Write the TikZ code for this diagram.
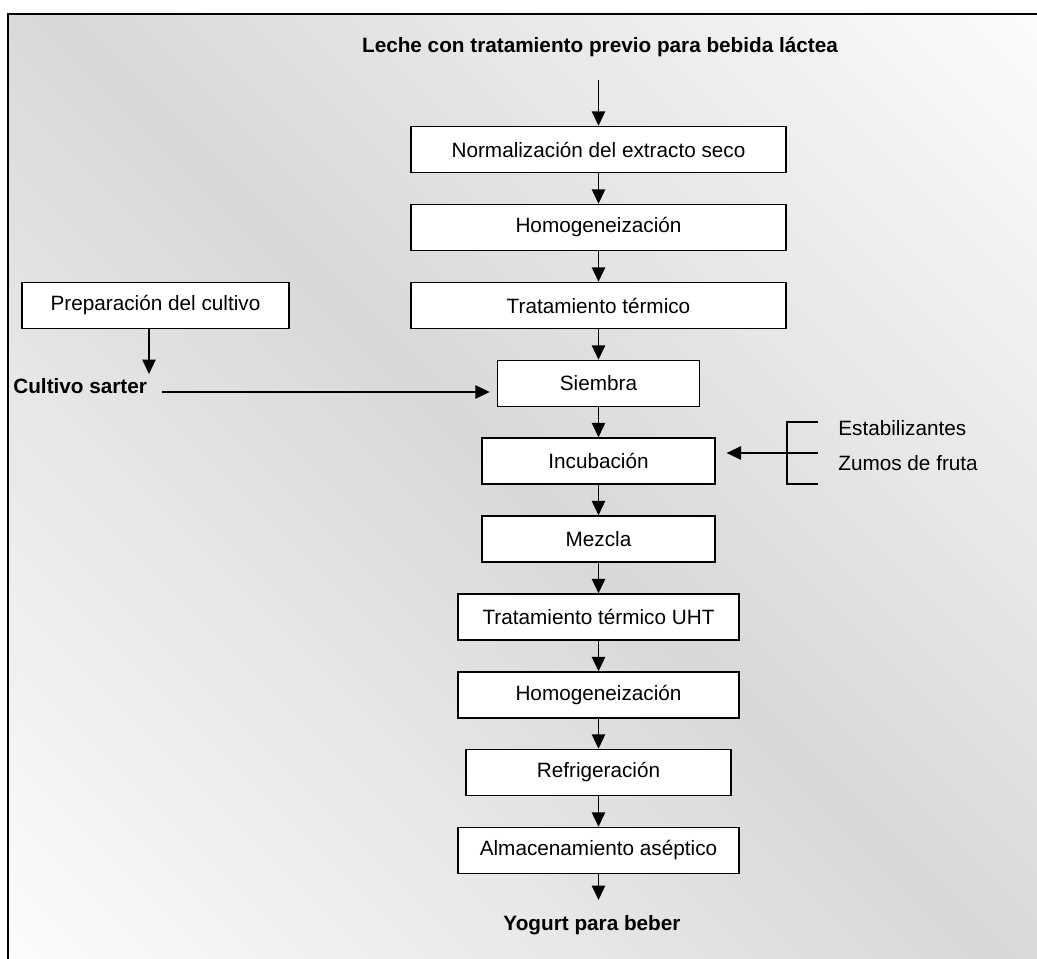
\documentclass[tikz,border=0pt]{standalone}
\usepackage{fontspec}
\setmainfont{Liberation Sans}
\usetikzlibrary{arrows.meta,calc}
\definecolor{bgmid}{RGB}{216,216,216}
\definecolor{bgend}{RGB}{252,252,252}
\begin{document}
\begin{tikzpicture}[x=0.02cm,y=-0.02cm,
  every node/.style={font=\fontsize{11.8}{14}\selectfont},
  stage/.style={draw=black, line width=0.85pt, fill=white, minimum height=0.92cm,
    inner sep=0pt, align=center},
  title/.style={font=\fontsize{11.8}{14}\selectfont\bfseries, inner sep=0pt},
  plain/.style={inner sep=0pt, anchor=west},
  flow/.style={line width=0.85pt, -{Triangle[length=8.2pt,width=7.6pt]}},
  bracket/.style={line width=0.85pt}
]
% page and framed panel with a diagonal grey gradient (built from thin bands)
\clip (0,0) rectangle (1037,959);
\fill[white] (0,0) rectangle (1037,959);
\begin{scope}
  \clip (8,14) rectangle (1045,965);
  \begin{scope}[rotate around={45:(518.5,479.5)}]
    \foreach \i in {0,...,119}{
      \pgfmathsetmacro{\s}{-706+\i*11.767}
      \pgfmathsetmacro{\c}{\s+5.88}
      \pgfmathtruncatemacro{\p}{100*(1-abs(\c)/706)}
      \fill[bgmid!\p!bgend] (518.5+\s,-420) rectangle (518.5+\s+13,1380);
    }
  \end{scope}
\end{scope}
\draw[line width=1.2pt] (8,970) -- (8,14) -- (1045,14);

% main process column
\node[title] (src) at (600,47) {Leche con tratamiento previo para bebida láctea};
\coordinate (srcend) at (598.5,80);
\node[stage, minimum width=7.5cm]  (n1)  at (598.5,149.5) {Normalización del extracto seco};
\node[stage, minimum width=7.5cm]  (n2)  at (598.5,227.5) {Homogeneización};
\node[stage, minimum width=7.5cm]  (n3)  at (598.5,305.5) {Tratamiento térmico};
\node[stage, minimum width=4.04cm] (n4)  at (598.5,383.5) {Siembra};
\node[stage, minimum width=4.66cm] (n5)  at (598.5,461.0) {Incubación};
\node[stage, minimum width=4.66cm] (n6)  at (598.5,539.0) {Mezcla};
\node[stage, minimum width=5.62cm] (n7)  at (598.5,617.0) {Tratamiento térmico UHT};
\node[stage, minimum width=5.62cm] (n8)  at (598.5,695.0) {Homogeneización};
\node[stage, minimum width=5.3cm]  (n9)  at (598.5,772.5) {Refrigeración};
\node[stage, minimum width=5.62cm] (n10) at (598.5,850.5) {Almacenamiento aséptico};
\coordinate (outend) at (598.5,900);
\node[title] (out) at (592,925) {Yogurt para beber};

\draw[flow] (srcend) -- (n1);
\draw[flow] (n1) -- (n2);
\draw[flow] (n2) -- (n3);
\draw[flow] (n3) -- (n4);
\draw[flow] (n4) -- (n5);
\draw[flow] (n5) -- (n6);
\draw[flow] (n6) -- (n7);
\draw[flow] (n7) -- (n8);
\draw[flow] (n8) -- (n9);
\draw[flow] (n9) -- (n10);
\draw[flow] (n10) -- (outend);

% starter culture branch
\node[stage, minimum width=5.34cm] (prep) at (155.5,305.5) {Preparación del cultivo};
\node[title, anchor=west] (cult) at (13,386) {Cultivo sarter};
\coordinate (cultdrop) at (149,374);
\coordinate (cultstart) at (162,392);
\draw[flow] (prep.south -| cultdrop) -- (cultdrop);
\draw[flow, shorten >=4pt] (cultstart) -- (n4.west |- cultstart);

% additives bracket
\coordinate (br) at (787,453);
\draw[bracket] (818,422) -- (787,422) -- (787,484) -- (818,484);
\draw[bracket] (br) -- (818,453);
\draw[flow, shorten >=6.2pt] (br) -- (n5.east |- br);
\node[plain] (estab) at (838,428) {Estabilizantes};
\node[plain] (zumos) at (838,463) {Zumos de fruta};
\end{tikzpicture}
\end{document}
